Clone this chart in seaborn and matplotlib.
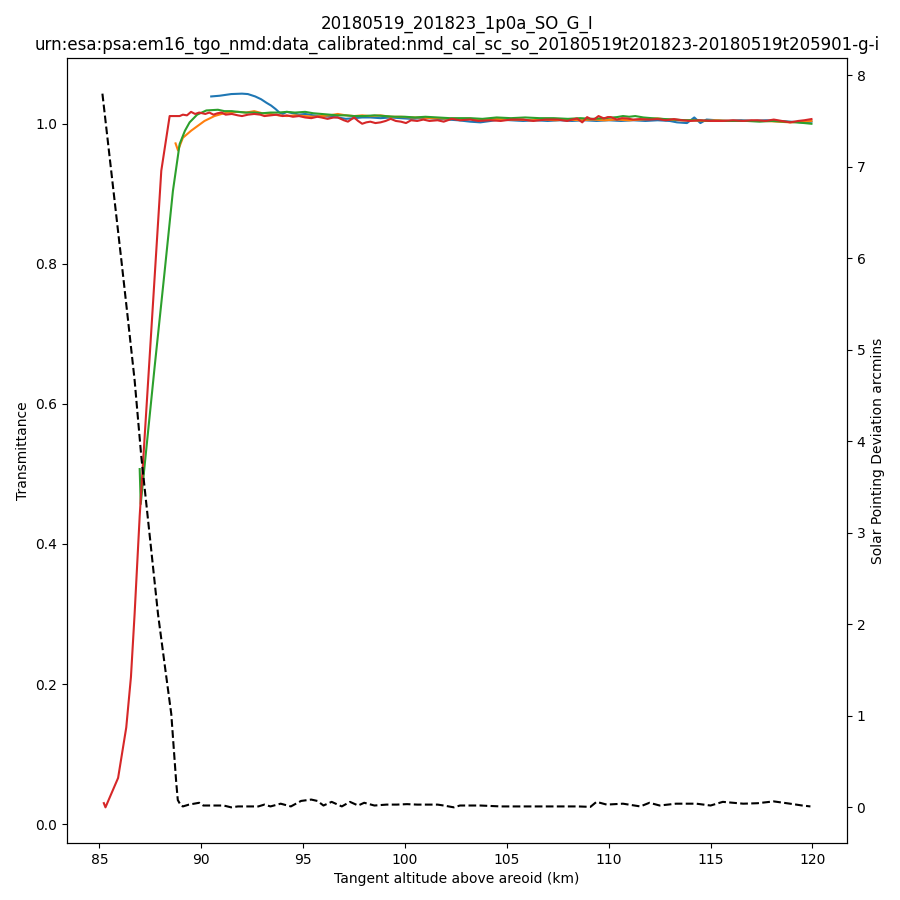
import matplotlib
matplotlib.use("Agg")
import matplotlib.pyplot as plt
import seaborn as sns
import pandas as pd

title_lines = ["20180519_201823_1p0a_SO_G_I",
               "urn:esa:psa:em16_tgo_nmd:data_calibrated:nmd_cal_sc_so_20180519t201823-20180519t205901-g-i"]
x_label = "Tangent altitude above areoid (km)"
y_label = "Transmittance"
y2_label = "Solar Pointing Deviation arcmins"

blue_x = [90.49, 90.9, 91.47, 92.0, 92.29, 92.65, 92.94, 93.2, 93.43, 93.65, 93.84, 94.0, 94.2, 94.5, 94.8,
          95.1, 95.5, 95.9, 96.3, 96.7, 97.1, 97.5, 97.9, 98.3, 98.8, 99.3, 99.8, 100.3, 100.8, 101.2,
          101.6, 102.1, 102.6, 103.2, 103.7, 104.2, 104.6, 105.2, 105.8, 106.4, 107.0, 107.6, 108.2, 108.8,
          109.4, 110.0, 110.6, 111.2, 111.8, 112.4, 113.0, 113.35, 113.84, 114.2, 114.5, 114.8, 115.3,
          115.9, 116.5, 117.1, 117.7, 118.3, 118.9, 119.5, 119.95]
blue_y = [1.039, 1.040, 1.0424, 1.043, 1.0424, 1.039, 1.035, 1.030, 1.026, 1.021, 1.016, 1.014, 1.017, 1.015,
          1.013, 1.014, 1.012, 1.011, 1.010, 1.009, 1.007, 1.008, 1.009, 1.009, 1.008, 1.009, 1.008, 1.007,
          1.008, 1.008, 1.007, 1.006, 1.005, 1.003, 1.002, 1.004, 1.006, 1.005, 1.004, 1.005, 1.004, 1.005,
          1.004, 1.005, 1.004, 1.005, 1.004, 1.005, 1.004, 1.005, 1.004, 1.002, 1.001, 1.009, 1.001, 1.006,
          1.005, 1.004, 1.005, 1.004, 1.005, 1.004, 1.003, 1.002, 1.003]

orange_x = [88.74, 88.86, 89.1, 89.5, 89.83, 90.16, 90.65, 91.0, 91.3, 91.8, 92.2, 92.6, 93.0, 93.4, 93.8,
            94.2, 94.6, 95.1, 95.5, 95.9, 96.3, 96.7, 97.1, 97.5, 97.9, 98.3, 98.8, 99.3, 99.8, 100.3,
            100.8, 101.2, 101.6, 102.2, 102.7, 103.2, 103.8, 104.4, 105.0, 105.6, 106.2, 106.8, 107.4,
            108.0, 108.6, 109.2, 109.8, 110.4, 111.0, 111.6, 112.4, 112.9, 113.5, 114.1, 114.7, 115.3,
            115.9, 116.5, 117.1, 117.7, 118.3, 118.9, 119.5, 119.95]
orange_y = [0.972, 0.962, 0.980, 0.990, 0.997, 1.004, 1.011, 1.014, 1.016, 1.017, 1.016, 1.018, 1.015, 1.014,
            1.012, 1.011, 1.012, 1.011, 1.010, 1.011, 1.012, 1.014, 1.012, 1.011, 1.012, 1.011, 1.012, 1.010,
            1.010, 1.009, 1.009, 1.008, 1.008, 1.007, 1.007, 1.007, 1.006, 1.007, 1.006, 1.006, 1.005, 1.006,
            1.005, 1.006, 1.005, 1.006, 1.005, 1.006, 1.005, 1.006, 1.0076, 1.006, 1.005, 1.005, 1.004, 1.005,
            1.004, 1.004, 1.004, 1.004, 1.003, 1.002, 1.003, 1.004]

green_x = [86.98, 87.03, 87.71, 88.2, 88.61, 88.94, 89.2, 89.43, 89.8, 90.25, 90.82, 91.14, 91.5, 91.8, 92.2,
           92.6, 93.0, 93.4, 93.8, 94.2, 94.6, 95.1, 95.5, 95.9, 96.3, 96.7, 97.1, 97.5, 98.0, 98.5, 99.0,
           99.5, 100.0, 100.5, 101.0, 101.6, 102.2, 102.7, 103.2, 103.8, 104.5, 105.2, 105.9, 106.6, 107.3,
           108.0, 108.6, 109.2, 109.8, 110.4, 110.7, 111.0, 111.3, 111.7, 112.1, 112.6, 113.2, 113.8, 114.4,
           115.0, 115.6, 116.2, 116.8, 117.4, 118.0, 118.6, 119.2, 119.6, 119.95]
green_y = [0.507, 0.457, 0.652, 0.788, 0.904, 0.971, 0.990, 1.002, 1.013, 1.019, 1.020, 1.018, 1.018, 1.017,
           1.016, 1.016, 1.015, 1.016, 1.016, 1.017, 1.016, 1.017, 1.015, 1.014, 1.013, 1.012, 1.012, 1.011,
           1.011, 1.012, 1.011, 1.010, 1.010, 1.009, 1.010, 1.009, 1.008, 1.008, 1.008, 1.007, 1.009, 1.008,
           1.009, 1.008, 1.008, 1.007, 1.008, 1.007, 1.008, 1.0095, 1.011, 1.010, 1.011, 1.009, 1.008, 1.007,
           1.006, 1.005, 1.005, 1.004, 1.004, 1.004, 1.004, 1.003, 1.004, 1.003, 1.002, 1.001, 1.000]

red_x = [85.22, 85.30, 85.92, 86.32, 86.55, 86.73, 86.98, 88.04, 88.45, 88.94, 89.1, 89.3, 89.5, 89.7, 89.9,
         90.2, 90.4, 90.6, 90.8, 91.0, 91.2, 91.5, 91.8, 92.0, 92.3, 92.6, 92.9, 93.1, 93.4, 93.7, 94.0,
         94.2, 94.5, 94.8, 95.1, 95.4, 95.7, 95.9, 96.2, 96.5, 96.7, 97.0, 97.2, 97.5, 97.7, 97.9, 98.1,
         98.3, 98.55, 98.8, 99.05, 99.3, 99.55, 99.8, 100.05, 100.3, 100.6, 100.9, 101.2, 101.6, 101.9,
         102.3, 102.7, 103.2, 103.6, 104.2, 104.7, 105.2, 105.8, 106.3, 106.9, 107.5, 107.96, 108.2, 108.45,
         108.7, 108.94, 109.1, 109.3, 109.5, 109.76, 109.95, 110.1, 110.4, 110.65, 110.9, 111.2, 111.55,
         112.0, 112.4, 112.8, 113.2, 113.6, 114.0, 114.5, 115.0, 115.6, 116.1, 116.6, 117.0, 117.3, 117.7,
         118.1, 118.5, 118.9, 119.3, 119.6, 119.95]
red_y = [0.030, 0.024, 0.066, 0.138, 0.21, 0.30, 0.44, 0.933, 1.011, 1.011, 1.013, 1.012, 1.017, 1.014, 1.016,
         1.014, 1.016, 1.013, 1.015, 1.016, 1.013, 1.014, 1.012, 1.011, 1.013, 1.014, 1.013, 1.011, 1.012,
         1.013, 1.011, 1.012, 1.010, 1.011, 1.009, 1.008, 1.010, 1.009, 1.007, 1.009, 1.009, 1.005, 1.003,
         1.009, 1.004, 1.000, 1.002, 1.003, 1.001, 1.002, 1.004, 1.007, 1.004, 1.003, 1.001, 1.005, 1.004,
         1.006, 1.004, 1.005, 1.003, 1.007, 1.005, 1.006, 1.004, 1.005, 1.004, 1.006, 1.006, 1.004, 1.006,
         1.006, 1.004, 1.006, 1.0076, 1.002, 1.0095, 1.007, 1.0067, 1.011, 1.0076, 1.0095, 1.0095, 1.006,
         1.008, 1.0076, 1.006, 1.0067, 1.006, 1.0067, 1.005, 1.0067, 1.005, 1.004, 1.005, 1.004, 1.004,
         1.005, 1.004, 1.005, 1.005, 1.004, 1.006, 1.004, 1.002, 1.004, 1.005, 1.0067]

dev_x = [85.15, 85.6, 86.08, 86.4, 86.73, 87.06, 87.5, 87.88, 88.2, 88.53, 88.77, 88.85, 89.0, 89.1, 89.4,
         89.9, 90.1, 90.6, 91.1, 91.47, 91.8, 92.3, 92.8, 93.1, 93.4, 93.9, 94.4, 94.9, 95.4, 95.7, 96.0,
         96.4, 96.9, 97.3, 97.7, 98.0, 98.5, 99.1, 99.6, 100.1, 100.6, 101.1, 101.6, 101.9, 102.4, 102.7,
         103.2, 103.7, 104.2, 104.7, 105.5, 106.5, 107.5, 108.5, 109.1, 109.4, 109.9, 110.7, 111.55, 112.0,
         112.5, 113.3, 114.3, 115.0, 115.6, 116.6, 117.3, 118.1, 118.9, 119.5, 119.9]
dev_y = [7.80, 6.92, 5.98, 5.34, 4.67, 3.83, 2.91, 2.11, 1.57, 1.02, 0.28, 0.08, 0.02, 0.01, 0.03,
         0.05, 0.02, 0.02, 0.02, 0.00, 0.01, 0.01, 0.01, 0.03, 0.01, 0.04, 0.01, 0.07, 0.085, 0.07, 0.02,
         0.06, 0.01, 0.06, 0.02, 0.05, 0.02, 0.03, 0.03, 0.035, 0.03, 0.03, 0.03, 0.02, 0.00, 0.02,
         0.02, 0.02, 0.015, 0.01, 0.01, 0.01, 0.01, 0.01, 0.005, 0.06, 0.03, 0.04, 0.01, 0.05,
         0.02, 0.04, 0.04, 0.02, 0.06, 0.04, 0.045, 0.065, 0.04, 0.02, 0.01]

fig = plt.figure(figsize=(9, 9), dpi=100)
ax = fig.add_subplot(111)
fig.subplots_adjust(left=0.0744, right=0.941, bottom=0.0633, top=0.9356)

series = [(blue_x, blue_y, "C0"), (orange_x, orange_y, "C1"),
          (green_x, green_y, "C2"), (red_x, red_y, "C3")]
for xs, ys, col in series:
    df = pd.DataFrame({"x": xs, "y": ys})
    sns.lineplot(data=df, x="x", y="y", ax=ax, color=col, linewidth=1.5,
                 estimator=None, sort=False)

ax.set_xlabel(x_label)
ax.set_ylabel(y_label)
ax.set_xticks([85, 90, 95, 100, 105, 110, 115, 120])
ax.set_yticks([0.0, 0.2, 0.4, 0.6, 0.8, 1.0])

ax2 = ax.twinx()
ddf = pd.DataFrame({"x": dev_x, "y": dev_y})
sns.lineplot(data=ddf, x="x", y="y", ax=ax2, color="black", linestyle="--",
             linewidth=1.5, estimator=None, sort=False)
ax2.set_ylabel(y2_label)
ax2.set_xlabel("")
ax2.set_yticks(range(0, 9))

ax.set_title("\n".join(title_lines), fontsize=12)

fig.savefig("out.png", dpi=100)
